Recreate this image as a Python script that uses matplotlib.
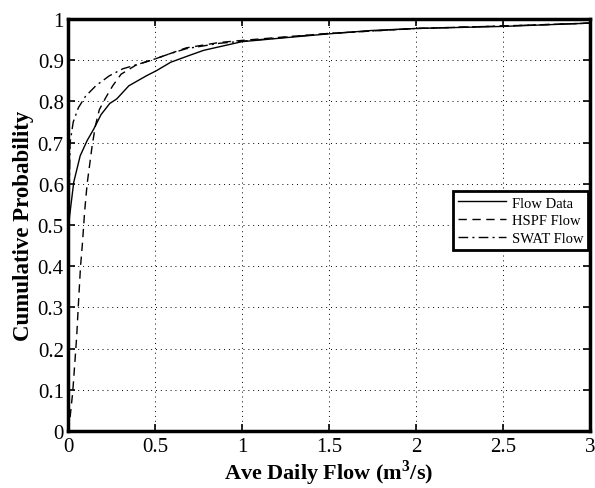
import matplotlib
matplotlib.use('Agg')
import matplotlib.pyplot as plt

# values
flow_x = [0.0, 0.0, 0.033, 0.07, 0.11, 0.148, 0.19, 0.24, 0.28, 0.35, 0.45, 0.51, 0.59,
          0.70, 0.78, 1.0, 1.26, 1.5, 1.74, 2.0, 2.5, 3.0]
flow_y = [0.0, 0.49, 0.604, 0.668, 0.705, 0.733, 0.768, 0.795, 0.806, 0.838, 0.862, 0.875,
          0.895, 0.912, 0.924, 0.945, 0.955, 0.964, 0.972, 0.977, 0.982, 0.99]

hspf_x = [0.0, 0.013, 0.027, 0.038, 0.05, 0.06, 0.072, 0.082, 0.096, 0.11, 0.138, 0.157,
          0.18, 0.218, 0.257, 0.305, 0.39, 0.5, 0.58, 0.68, 0.87, 1.0, 1.26, 1.5, 2.0, 2.5, 3.0]
hspf_y = [0.0, 0.037, 0.094, 0.158, 0.23, 0.31, 0.4, 0.45, 0.535, 0.6, 0.69, 0.74,
          0.78, 0.81, 0.838, 0.866, 0.888, 0.903, 0.915, 0.93, 0.943, 0.948, 0.957, 0.965,
          0.977, 0.983, 0.99]

swat_x = [0.0, 0.004, 0.008, 0.012, 0.03, 0.06, 0.1, 0.16, 0.237, 0.314, 0.41, 0.5, 0.58,
          0.68, 0.87, 1.0, 1.26, 1.5, 2.0, 2.5, 3.0]
swat_y = [0.0, 0.3, 0.6, 0.7, 0.75, 0.785, 0.812, 0.838, 0.862, 0.879, 0.891, 0.903, 0.915,
          0.928, 0.941, 0.946, 0.956, 0.965, 0.977, 0.983, 0.99]

x_ticks = [0, 0.5, 1, 1.5, 2, 2.5, 3]
x_labels = ['0', '0.5', '1', '1.5', '2', '2.5', '3']
y_ticks = [0, 0.1, 0.2, 0.3, 0.4, 0.5, 0.6, 0.7, 0.8, 0.9, 1]
y_labels = ['0', '0.1', '0.2', '0.3', '0.4', '0.5', '0.6', '0.7', '0.8', '0.9', '1']

plt.rcParams['font.family'] = ['Liberation Serif', 'DejaVu Serif']
plt.rcParams['mathtext.fontset'] = 'custom'
plt.rcParams['mathtext.rm'] = 'Liberation Serif'
plt.rcParams['mathtext.bf'] = 'Liberation Serif:bold'

fig = plt.figure(figsize=(5.95, 4.89), dpi=100)
ax = fig.add_axes([0.1143, 0.1166, 0.8773, 0.8425])

ax.plot(flow_x, flow_y, color='black', lw=1.0, ls='-', label='Flow Data')
ax.plot(hspf_x, hspf_y, color='black', lw=1.0, ls=(0, (6, 4)), label='HSPF Flow')
ax.plot(swat_x, swat_y, color='black', lw=1.0, ls=(0, (7, 3, 1.5, 3)), label='SWAT Flow')

ax.set_xlim(0, 3)
ax.set_ylim(0, 1)
ax.set_xticks(x_ticks)
ax.set_xticklabels(x_labels)
ax.set_yticks(y_ticks)
ax.set_yticklabels(y_labels)
ax.tick_params(direction='in', top=True, right=True, length=5, width=1.2,
               labelsize=15)
ax.tick_params(axis='x', pad=4)
ax.tick_params(axis='y', pad=3)
ax.grid(True, color='black', ls=(0, (1, 4)), lw=0.7)
for s in ax.spines.values():
    s.set_linewidth(2.5)

ax.set_xlabel(r'Ave Daily Flow (m$^\mathbf{3}$/s)', fontsize=16, fontweight='bold', labelpad=1)
ax.set_ylabel('Cumulative Probability', fontsize=16.5, fontweight='bold', labelpad=3)

leg = ax.legend(loc='upper right', bbox_to_anchor=(0.997, 0.582), fontsize=10.5,
                handlelength=3.3, fancybox=False, edgecolor='black', framealpha=1,
                borderpad=0.35, labelspacing=0.3, handletextpad=0.4, borderaxespad=0)
leg.get_frame().set_linewidth(2.0)

fig.savefig('out.png', dpi=100)
